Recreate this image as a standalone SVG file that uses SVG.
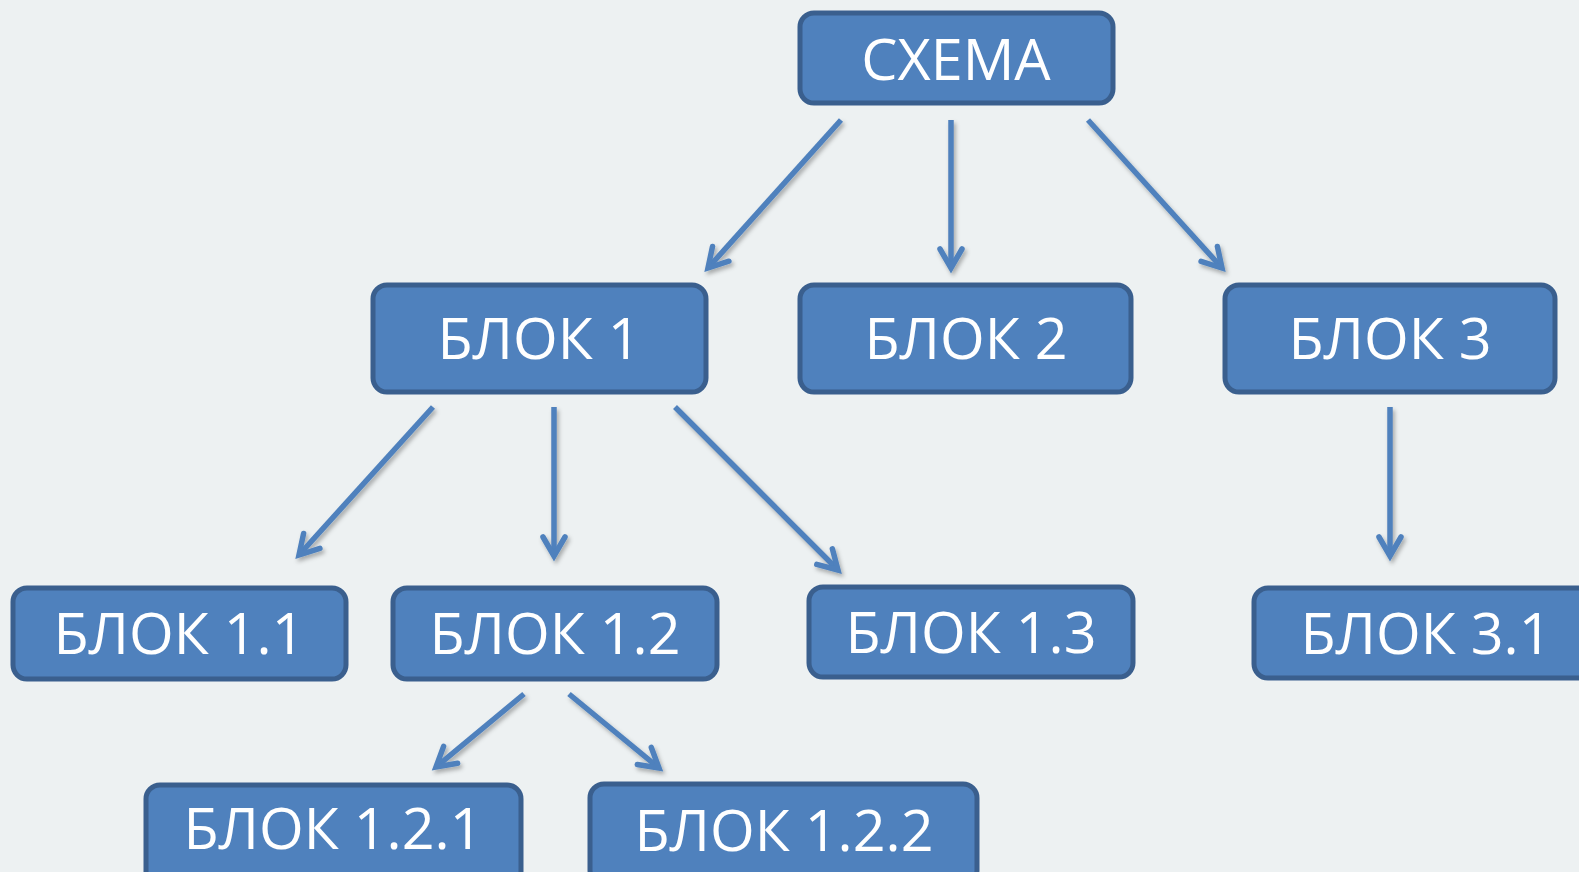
<svg xmlns="http://www.w3.org/2000/svg" width="1579" height="872" viewBox="0 0 1579 872">
<defs>
<style>
.box{fill:#4f81bd;stroke:#3a5f8e;stroke-width:5}
.lbl{font-family:"Open Sans","Liberation Sans",sans-serif;font-size:57.5px;fill:#ffffff;text-anchor:middle}
.con{stroke:#4f81bd;stroke-width:5.5;fill:none;marker-end:url(#arr)}
</style>
<marker id="arr" markerUnits="userSpaceOnUse" markerWidth="40" markerHeight="40" viewBox="-25 -20 30 40" refX="0" refY="0" orient="auto">
<path d="M-19,-11 L0,0 L-19,11" fill="none" stroke="#4f81bd" stroke-width="5.5" stroke-linecap="round" stroke-linejoin="miter"/>
</marker>
<filter id="sh" x="-20%" y="-20%" width="140%" height="140%">
<feDropShadow dx="2" dy="3" stdDeviation="2" flood-color="#000" flood-opacity="0.3"/>
</filter>
</defs>
<rect x="0" y="0" width="1579" height="872" fill="#edf1f2"/>
<g id="connectors" filter="url(#sh)">
<line class="con" x1="841" y1="120" x2="708" y2="268"/>
<line class="con" x1="951" y1="120" x2="951" y2="268"/>
<line class="con" x1="1088" y1="120" x2="1222" y2="268"/>
<line class="con" x1="433" y1="407" x2="299" y2="555"/>
<line class="con" x1="554" y1="407" x2="554" y2="556"/>
<line class="con" x1="675" y1="407" x2="838" y2="570"/>
<line class="con" x1="1390" y1="407" x2="1390" y2="556"/>
<line class="con" x1="524" y1="694" x2="436" y2="767"/>
<line class="con" x1="569" y1="694" x2="659" y2="768"/>
</g>
<g id="n-schema"><rect class="box" x="800" y="13" width="313" height="90" rx="14"/><text class="lbl" x="956" y="80">СХЕМА</text></g>
<g id="n-b1"><rect class="box" x="373" y="285" width="333" height="107" rx="14"/><text class="lbl" x="539" y="359">БЛОК 1</text></g>
<g id="n-b2"><rect class="box" x="800" y="285" width="331" height="107" rx="14"/><text class="lbl" x="966" y="359">БЛОК 2</text></g>
<g id="n-b3"><rect class="box" x="1225" y="285" width="330" height="107" rx="14"/><text class="lbl" x="1390" y="359">БЛОК 3</text></g>
<g id="n-b11"><rect class="box" x="13" y="588" width="333" height="91" rx="14"/><text class="lbl" x="179" y="654">БЛОК 1.1</text></g>
<g id="n-b12"><rect class="box" x="393" y="588" width="324" height="91" rx="14"/><text class="lbl" x="555" y="654">БЛОК 1.2</text></g>
<g id="n-b13"><rect class="box" x="809" y="587" width="324" height="90" rx="14"/><text class="lbl" x="971" y="653">БЛОК 1.3</text></g>
<g id="n-b31"><rect class="box" x="1254" y="588" width="344" height="90" rx="14"/><text class="lbl" x="1426" y="654">БЛОК 3.1</text></g>
<g id="n-b121"><rect class="box" x="146" y="785" width="375" height="100" rx="14"/><text class="lbl" x="333" y="849">БЛОК 1.2.1</text></g>
<g id="n-b122"><rect class="box" x="590" y="784" width="387" height="100" rx="14"/><text class="lbl" x="784" y="851">БЛОК 1.2.2</text></g>
</svg>
